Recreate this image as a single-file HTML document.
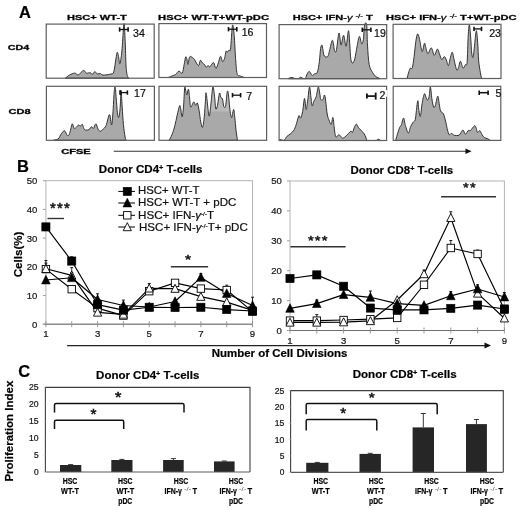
<!DOCTYPE html>
<html><head><meta charset="utf-8"><title>Figure</title>
<style>
html,body{margin:0;padding:0;background:#fff;}
body{width:520px;height:508px;overflow:hidden;}
svg{display:block;font-family:"Liberation Sans", sans-serif;will-change:transform;}
text{stroke:#111;stroke-width:0.22px;}
</style></head>
<body>
<svg width="520" height="508" viewBox="0 0 520 508" font-family='"Liberation Sans", sans-serif'>
<rect x="0" y="0" width="520" height="508" fill="#fff"/>
<text x="19.00" y="17.60" font-size="16.5" font-weight="bold" text-anchor="start" fill="#000" >A</text>
<text x="7.80" y="50.40" font-size="8" font-weight="bold" text-anchor="start" fill="#000" textLength="21.40" lengthAdjust="spacingAndGlyphs" style="stroke-width:0.32px">CD4</text>
<text x="8.60" y="114.20" font-size="8" font-weight="bold" text-anchor="start" fill="#000" textLength="22.00" lengthAdjust="spacingAndGlyphs" style="stroke-width:0.32px">CD8</text>
<text x="66.90" y="19.70" font-size="7.6" font-weight="bold" text-anchor="start" fill="#000" textLength="60.00" lengthAdjust="spacingAndGlyphs" style="stroke-width:0.28px">HSC+ WT-T</text>
<text x="158.10" y="19.70" font-size="7.6" font-weight="bold" text-anchor="start" fill="#000" textLength="110.90" lengthAdjust="spacingAndGlyphs" style="stroke-width:0.28px">HSC+ WT-T+WT-pDC</text>
<text x="292.8" y="19.7" font-size="7.6" font-weight="bold" style="stroke-width:0.28px" textLength="80" lengthAdjust="spacingAndGlyphs">HSC+ IFN-<tspan font-weight="normal" font-style="italic">γ</tspan> <tspan baseline-shift="35%" font-size="5.5" font-weight="normal">-/-</tspan> T</text>
<text x="386.1" y="19.7" font-size="7.6" font-weight="bold" style="stroke-width:0.28px" textLength="130.5" lengthAdjust="spacingAndGlyphs">HSC+ IFN-<tspan font-weight="normal" font-style="italic">γ</tspan> <tspan baseline-shift="35%" font-size="5.5" font-weight="normal">-/-</tspan> T+WT-pDC</text>
<path d="M65.40,78.20 C65.40,78.20 64.73,78.20 65.40,78.20 C66.07,77.68 67.83,75.95 69.40,75.10 C70.97,74.25 73.33,73.13 74.80,73.10 C76.27,73.07 76.73,75.35 78.20,74.90 C79.67,74.45 82.27,70.70 83.60,70.40 C84.93,70.10 85.08,72.72 86.20,73.10 C87.32,73.48 89.28,72.47 90.30,72.70 C91.32,72.93 91.57,74.65 92.30,74.50 C93.03,74.35 93.80,71.88 94.70,71.80 C95.60,71.72 96.75,73.72 97.70,74.00 C98.65,74.28 99.52,73.32 100.40,73.50 C101.28,73.68 101.22,75.02 103.00,75.10 C104.78,75.18 109.30,74.55 111.10,74.00 C112.90,73.45 113.00,74.30 113.80,71.80 C114.60,69.30 115.33,62.25 115.90,59.00 C116.47,55.75 116.77,52.75 117.20,52.30 C117.63,51.85 118.05,54.40 118.50,56.30 C118.95,58.20 119.33,64.60 119.90,63.70 C120.47,62.80 121.30,56.85 121.90,50.90 C122.50,44.95 123.10,32.32 123.50,28.00 C123.90,23.68 124.00,22.30 124.30,25.00 C124.60,27.70 124.98,36.97 125.30,44.20 C125.62,51.43 125.75,62.80 126.20,68.40 C126.65,74.00 127.53,76.17 128.00,77.80 C128.47,78.20 128.83,78.13 129.00,78.20 C129.17,78.20 129.00,78.20 129.00,78.20 Z" fill="#a9a9a9" stroke="#333" stroke-width="1.0" stroke-linejoin="round"/>
<path d="M168.10,77.50 C168.10,77.50 167.53,77.50 168.10,77.50 C168.67,77.28 170.27,76.70 171.50,76.20 C172.73,75.70 174.27,75.35 175.50,74.50 C176.73,73.65 177.78,71.33 178.90,71.10 C180.02,70.87 181.32,74.22 182.20,73.10 C183.08,71.98 183.63,67.08 184.20,64.40 C184.77,61.72 185.15,57.90 185.60,57.00 C186.05,56.10 186.52,57.77 186.90,59.00 C187.28,60.23 187.45,64.73 187.90,64.40 C188.35,64.07 188.98,58.23 189.60,57.00 C190.22,55.77 190.82,56.62 191.60,57.00 C192.38,57.38 193.17,57.85 194.30,59.30 C195.43,60.75 197.38,65.53 198.40,65.70 C199.42,65.87 199.73,60.75 200.40,60.30 C201.07,59.85 201.73,62.32 202.40,63.00 C203.07,63.68 203.77,63.68 204.40,64.40 C205.03,65.12 205.58,67.12 206.20,67.30 C206.82,67.48 207.50,65.58 208.10,65.50 C208.70,65.42 208.90,67.28 209.80,66.80 C210.70,66.32 212.48,62.33 213.50,62.60 C214.52,62.87 215.10,68.33 215.90,68.40 C216.70,68.47 217.52,65.02 218.30,63.00 C219.08,60.98 219.88,56.52 220.60,56.30 C221.32,56.08 221.93,61.37 222.60,61.70 C223.27,62.03 224.02,60.07 224.60,58.30 C225.18,56.53 225.65,52.10 226.10,51.10 C226.55,50.10 226.82,52.48 227.30,52.30 C227.78,52.12 228.47,50.48 229.00,50.00 C229.53,49.52 230.02,52.58 230.50,49.40 C230.98,46.22 231.52,34.97 231.90,30.90 C232.28,26.83 232.42,24.23 232.80,25.00 C233.18,25.77 233.73,29.90 234.20,35.50 C234.67,41.10 235.12,52.25 235.60,58.60 C236.08,64.95 236.37,70.72 237.10,73.60 C237.83,76.48 238.75,75.25 240.00,75.90 C241.25,76.55 243.83,77.23 244.60,77.50 C245.37,77.50 244.60,77.50 244.60,77.50 Z" fill="#a9a9a9" stroke="#333" stroke-width="1.0" stroke-linejoin="round"/>
<path d="M288.50,78.70 C288.50,78.65 287.92,78.62 288.50,78.40 C289.08,78.18 291.03,77.40 292.00,77.40 C292.97,77.40 293.15,78.23 294.30,78.40 C295.45,78.57 297.85,78.62 298.90,78.40 C299.95,78.18 299.92,77.10 300.60,77.10 C301.28,77.10 302.22,78.18 303.00,78.40 C303.78,78.62 304.60,78.70 305.30,78.40 C306.00,77.65 306.57,75.07 307.20,73.90 C307.83,72.73 308.52,71.50 309.10,71.40 C309.68,71.30 310.18,72.63 310.70,73.30 C311.22,73.97 311.57,75.30 312.20,75.40 C312.83,75.50 313.63,74.43 314.50,73.90 C315.37,73.37 316.58,74.32 317.40,72.20 C318.22,70.08 318.87,65.15 319.40,61.20 C319.93,57.25 320.17,51.18 320.60,48.50 C321.03,45.82 321.62,44.90 322.00,45.10 C322.38,45.30 322.52,47.88 322.90,49.70 C323.28,51.52 323.50,54.85 324.30,56.00 C325.10,57.15 326.83,57.47 327.70,56.60 C328.57,55.73 328.77,53.48 329.50,50.80 C330.23,48.12 331.43,41.65 332.10,40.50 C332.77,39.35 333.12,42.27 333.50,43.90 C333.88,45.53 333.93,49.15 334.40,50.30 C334.87,51.45 335.53,53.68 336.30,50.80 C337.07,47.92 338.22,33.95 339.00,33.00 C339.78,32.05 340.23,44.72 341.00,45.10 C341.77,45.48 342.75,35.12 343.60,35.30 C344.45,35.48 345.28,46.97 346.10,46.20 C346.92,45.43 347.88,30.88 348.50,30.70 C349.12,30.52 349.42,40.40 349.80,45.10 C350.18,49.80 350.35,55.92 350.80,58.90 C351.25,61.88 351.83,63.00 352.50,63.00 C353.17,63.00 354.03,61.70 354.80,58.90 C355.57,56.10 356.33,49.95 357.10,46.20 C357.87,42.45 358.63,36.78 359.40,36.40 C360.17,36.02 361.03,43.42 361.70,43.90 C362.37,44.38 362.92,42.45 363.40,39.30 C363.88,36.15 364.05,27.38 364.60,25.00 C365.15,22.62 366.22,21.65 366.70,25.00 C367.18,28.35 367.08,38.48 367.50,45.10 C367.92,51.72 368.33,60.10 369.20,64.70 C370.07,69.30 371.55,70.68 372.70,72.70 C373.85,74.72 374.95,75.85 376.10,76.80 C377.25,77.75 379.02,78.08 379.60,78.40 C380.18,78.70 379.60,78.65 379.60,78.70 Z" fill="#a9a9a9" stroke="#333" stroke-width="1.0" stroke-linejoin="round"/>
<path d="M407.10,78.50 C407.10,78.48 406.80,78.50 407.10,78.40 C407.40,77.25 408.35,73.32 408.90,71.60 C409.45,69.88 409.83,68.72 410.40,68.10 C410.97,67.48 411.68,69.82 412.30,67.90 C412.92,65.98 413.52,60.98 414.10,56.60 C414.68,52.22 415.23,45.35 415.80,41.60 C416.37,37.85 416.92,34.68 417.50,34.10 C418.08,33.52 418.53,35.22 419.30,38.10 C420.07,40.98 421.25,50.53 422.10,51.40 C422.95,52.27 423.82,44.07 424.40,43.30 C424.98,42.53 425.02,45.07 425.60,46.80 C426.18,48.53 427.03,53.50 427.90,53.70 C428.77,53.90 430.07,48.67 430.80,48.00 C431.53,47.33 431.72,48.47 432.30,49.70 C432.88,50.93 433.45,55.50 434.30,55.40 C435.15,55.30 436.55,49.38 437.40,49.10 C438.25,48.82 438.68,51.97 439.40,53.70 C440.12,55.43 440.88,59.02 441.70,59.50 C442.52,59.98 443.52,56.50 444.30,56.60 C445.08,56.70 445.72,58.60 446.40,60.10 C447.08,61.60 447.73,65.98 448.40,65.60 C449.07,65.22 449.75,60.03 450.40,57.80 C451.05,55.57 451.63,51.63 452.30,52.20 C452.97,52.77 453.67,58.25 454.40,61.20 C455.13,64.15 456.03,68.75 456.70,69.90 C457.37,71.05 457.78,69.55 458.40,68.10 C459.02,66.65 459.63,61.20 460.40,61.20 C461.17,61.20 462.18,67.52 463.00,68.10 C463.82,68.68 464.62,65.65 465.30,64.70 C465.98,63.75 466.62,67.22 467.10,62.40 C467.58,57.58 467.82,42.03 468.20,35.80 C468.58,29.57 468.97,24.42 469.40,25.00 C469.83,25.58 470.42,34.62 470.80,39.30 C471.18,43.98 471.32,50.12 471.70,53.10 C472.08,56.08 472.62,58.53 473.10,57.20 C473.58,55.87 474.07,49.52 474.60,45.10 C475.13,40.68 475.78,31.08 476.30,30.70 C476.82,30.32 477.32,37.90 477.70,42.80 C478.08,47.70 478.22,55.50 478.60,60.10 C478.98,64.70 479.52,67.35 480.00,70.40 C480.48,73.45 481.25,77.05 481.50,78.40 C481.75,78.50 481.50,78.48 481.50,78.50 Z" fill="#a9a9a9" stroke="#333" stroke-width="1.0" stroke-linejoin="round"/>
<path d="M53.80,140.30 C53.80,140.30 53.32,140.30 53.80,140.30 C54.28,140.18 55.83,139.95 56.70,139.60 C57.57,139.25 58.33,139.02 59.00,138.20 C59.67,137.38 59.78,135.95 60.70,134.70 C61.62,133.45 63.43,130.60 64.50,130.70 C65.57,130.80 66.33,134.63 67.10,135.30 C67.87,135.97 68.48,135.75 69.10,134.70 C69.72,133.65 70.27,130.82 70.80,129.00 C71.33,127.18 71.73,123.90 72.30,123.80 C72.87,123.70 73.53,127.82 74.20,128.40 C74.87,128.98 75.57,127.88 76.30,127.30 C77.03,126.72 77.93,125.10 78.60,124.90 C79.27,124.70 79.68,126.18 80.30,126.10 C80.92,126.02 81.72,124.02 82.30,124.40 C82.88,124.78 83.27,127.45 83.80,128.40 C84.33,129.35 84.63,129.90 85.50,130.10 C86.37,130.30 88.00,130.17 89.00,129.60 C90.00,129.03 90.77,126.90 91.50,126.70 C92.23,126.50 92.67,128.88 93.40,128.40 C94.13,127.92 95.13,123.70 95.90,123.80 C96.67,123.90 97.27,127.75 98.00,129.00 C98.73,130.25 99.43,131.30 100.30,131.30 C101.17,131.30 102.23,129.97 103.20,129.00 C104.17,128.03 105.05,127.90 106.10,125.50 C107.15,123.10 108.58,114.68 109.50,114.60 C110.42,114.52 111.02,125.48 111.60,125.00 C112.18,124.52 112.58,117.00 113.00,111.70 C113.42,106.40 113.75,97.32 114.10,93.20 C114.45,89.08 114.75,86.23 115.10,87.00 C115.45,87.77 115.82,93.50 116.20,97.80 C116.58,102.10 116.97,109.53 117.40,112.80 C117.83,116.07 118.35,118.17 118.80,117.40 C119.25,116.63 119.72,112.42 120.10,108.20 C120.48,103.98 120.75,92.28 121.10,92.10 C121.45,91.92 121.82,101.72 122.20,107.10 C122.58,112.48 122.92,119.40 123.40,124.40 C123.88,129.40 124.62,134.45 125.10,137.10 C125.58,139.75 126.10,139.77 126.30,140.30 C126.50,140.30 126.30,140.30 126.30,140.30 Z" fill="#a9a9a9" stroke="#333" stroke-width="1.0" stroke-linejoin="round"/>
<clipPath id="hc11"><path d="M169.10,140.30 C169.10,140.30 168.62,140.30 169.10,140.30 C169.58,139.37 171.03,137.17 172.00,134.70 C172.97,132.23 174.03,128.77 174.90,125.50 C175.77,122.23 176.43,118.37 177.20,115.10 C177.97,111.83 178.93,107.05 179.50,105.90 C180.07,104.75 180.17,106.37 180.60,108.20 C181.03,110.03 181.62,117.08 182.10,116.90 C182.58,116.72 183.07,112.00 183.50,107.10 C183.93,102.20 184.32,90.20 184.70,87.50 C185.08,84.80 185.45,89.65 185.80,90.90 C186.15,92.15 186.37,95.28 186.80,95.00 C187.23,94.72 187.95,88.92 188.40,89.20 C188.85,89.48 189.12,93.72 189.50,96.70 C189.88,99.68 190.00,106.23 190.70,107.10 C191.40,107.97 192.88,102.20 193.70,101.90 C194.52,101.60 194.98,105.12 195.60,105.30 C196.22,105.48 196.82,102.13 197.40,103.00 C197.98,103.87 198.53,107.32 199.10,110.50 C199.67,113.68 200.22,119.30 200.80,122.10 C201.38,124.90 202.02,128.27 202.60,127.30 C203.18,126.33 203.83,120.63 204.30,116.30 C204.77,111.97 205.12,105.23 205.40,101.30 C205.68,97.37 205.70,92.70 206.00,92.70 C206.30,92.70 206.82,98.13 207.20,101.30 C207.58,104.47 207.92,109.30 208.30,111.70 C208.68,114.10 209.02,117.43 209.50,115.70 C209.98,113.97 210.63,106.08 211.20,101.30 C211.77,96.52 212.33,87.77 212.90,87.00 C213.47,86.23 214.12,93.07 214.60,96.70 C215.08,100.33 215.32,107.37 215.80,108.80 C216.28,110.23 216.88,107.90 217.50,105.30 C218.12,102.70 218.92,94.45 219.50,93.20 C220.08,91.95 220.50,96.83 221.00,97.80 C221.50,98.77 222.03,97.55 222.50,99.00 C222.97,100.45 223.28,105.35 223.80,106.50 C224.32,107.65 225.02,108.40 225.60,105.90 C226.18,103.40 226.82,93.32 227.30,91.50 C227.78,89.68 228.12,92.40 228.50,95.00 C228.88,97.60 229.22,103.75 229.60,107.10 C229.98,110.45 230.42,113.38 230.80,115.10 C231.18,116.82 231.43,118.35 231.90,117.40 C232.37,116.45 233.12,109.40 233.60,109.40 C234.08,109.40 234.40,113.95 234.80,117.40 C235.20,120.85 235.55,126.28 236.00,130.10 C236.45,133.92 237.25,138.60 237.50,140.30 C237.75,140.30 237.50,140.30 237.50,140.30 Z"/></clipPath>
<path d="M169.10,140.30 C169.10,140.30 168.62,140.30 169.10,140.30 C169.58,139.37 171.03,137.17 172.00,134.70 C172.97,132.23 174.03,128.77 174.90,125.50 C175.77,122.23 176.43,118.37 177.20,115.10 C177.97,111.83 178.93,107.05 179.50,105.90 C180.07,104.75 180.17,106.37 180.60,108.20 C181.03,110.03 181.62,117.08 182.10,116.90 C182.58,116.72 183.07,112.00 183.50,107.10 C183.93,102.20 184.32,90.20 184.70,87.50 C185.08,84.80 185.45,89.65 185.80,90.90 C186.15,92.15 186.37,95.28 186.80,95.00 C187.23,94.72 187.95,88.92 188.40,89.20 C188.85,89.48 189.12,93.72 189.50,96.70 C189.88,99.68 190.00,106.23 190.70,107.10 C191.40,107.97 192.88,102.20 193.70,101.90 C194.52,101.60 194.98,105.12 195.60,105.30 C196.22,105.48 196.82,102.13 197.40,103.00 C197.98,103.87 198.53,107.32 199.10,110.50 C199.67,113.68 200.22,119.30 200.80,122.10 C201.38,124.90 202.02,128.27 202.60,127.30 C203.18,126.33 203.83,120.63 204.30,116.30 C204.77,111.97 205.12,105.23 205.40,101.30 C205.68,97.37 205.70,92.70 206.00,92.70 C206.30,92.70 206.82,98.13 207.20,101.30 C207.58,104.47 207.92,109.30 208.30,111.70 C208.68,114.10 209.02,117.43 209.50,115.70 C209.98,113.97 210.63,106.08 211.20,101.30 C211.77,96.52 212.33,87.77 212.90,87.00 C213.47,86.23 214.12,93.07 214.60,96.70 C215.08,100.33 215.32,107.37 215.80,108.80 C216.28,110.23 216.88,107.90 217.50,105.30 C218.12,102.70 218.92,94.45 219.50,93.20 C220.08,91.95 220.50,96.83 221.00,97.80 C221.50,98.77 222.03,97.55 222.50,99.00 C222.97,100.45 223.28,105.35 223.80,106.50 C224.32,107.65 225.02,108.40 225.60,105.90 C226.18,103.40 226.82,93.32 227.30,91.50 C227.78,89.68 228.12,92.40 228.50,95.00 C228.88,97.60 229.22,103.75 229.60,107.10 C229.98,110.45 230.42,113.38 230.80,115.10 C231.18,116.82 231.43,118.35 231.90,117.40 C232.37,116.45 233.12,109.40 233.60,109.40 C234.08,109.40 234.40,113.95 234.80,117.40 C235.20,120.85 235.55,126.28 236.00,130.10 C236.45,133.92 237.25,138.60 237.50,140.30 C237.75,140.30 237.50,140.30 237.50,140.30 Z" fill="#a9a9a9"/>
<rect x="204" y="85" width="33" height="26.5" fill="#bababa" clip-path="url(#hc11)"/>
<path d="M169.10,140.30 C169.10,140.30 168.62,140.30 169.10,140.30 C169.58,139.37 171.03,137.17 172.00,134.70 C172.97,132.23 174.03,128.77 174.90,125.50 C175.77,122.23 176.43,118.37 177.20,115.10 C177.97,111.83 178.93,107.05 179.50,105.90 C180.07,104.75 180.17,106.37 180.60,108.20 C181.03,110.03 181.62,117.08 182.10,116.90 C182.58,116.72 183.07,112.00 183.50,107.10 C183.93,102.20 184.32,90.20 184.70,87.50 C185.08,84.80 185.45,89.65 185.80,90.90 C186.15,92.15 186.37,95.28 186.80,95.00 C187.23,94.72 187.95,88.92 188.40,89.20 C188.85,89.48 189.12,93.72 189.50,96.70 C189.88,99.68 190.00,106.23 190.70,107.10 C191.40,107.97 192.88,102.20 193.70,101.90 C194.52,101.60 194.98,105.12 195.60,105.30 C196.22,105.48 196.82,102.13 197.40,103.00 C197.98,103.87 198.53,107.32 199.10,110.50 C199.67,113.68 200.22,119.30 200.80,122.10 C201.38,124.90 202.02,128.27 202.60,127.30 C203.18,126.33 203.83,120.63 204.30,116.30 C204.77,111.97 205.12,105.23 205.40,101.30 C205.68,97.37 205.70,92.70 206.00,92.70 C206.30,92.70 206.82,98.13 207.20,101.30 C207.58,104.47 207.92,109.30 208.30,111.70 C208.68,114.10 209.02,117.43 209.50,115.70 C209.98,113.97 210.63,106.08 211.20,101.30 C211.77,96.52 212.33,87.77 212.90,87.00 C213.47,86.23 214.12,93.07 214.60,96.70 C215.08,100.33 215.32,107.37 215.80,108.80 C216.28,110.23 216.88,107.90 217.50,105.30 C218.12,102.70 218.92,94.45 219.50,93.20 C220.08,91.95 220.50,96.83 221.00,97.80 C221.50,98.77 222.03,97.55 222.50,99.00 C222.97,100.45 223.28,105.35 223.80,106.50 C224.32,107.65 225.02,108.40 225.60,105.90 C226.18,103.40 226.82,93.32 227.30,91.50 C227.78,89.68 228.12,92.40 228.50,95.00 C228.88,97.60 229.22,103.75 229.60,107.10 C229.98,110.45 230.42,113.38 230.80,115.10 C231.18,116.82 231.43,118.35 231.90,117.40 C232.37,116.45 233.12,109.40 233.60,109.40 C234.08,109.40 234.40,113.95 234.80,117.40 C235.20,120.85 235.55,126.28 236.00,130.10 C236.45,133.92 237.25,138.60 237.50,140.30 C237.75,140.30 237.50,140.30 237.50,140.30 Z" fill="none" stroke="#333" stroke-width="1.0" stroke-linejoin="round"/>
<path d="M279.90,140.50 C279.90,140.32 279.23,139.42 279.90,139.40 C280.57,139.38 282.75,140.50 283.90,140.40 C285.05,139.92 285.65,137.63 286.80,136.50 C287.95,135.37 289.55,134.75 290.80,133.60 C292.05,132.45 293.33,131.33 294.30,129.60 C295.27,127.87 295.83,125.52 296.60,123.20 C297.37,120.88 298.23,116.57 298.90,115.70 C299.57,114.83 299.98,118.67 300.60,118.00 C301.22,117.33 301.95,114.97 302.60,111.70 C303.25,108.43 303.92,98.78 304.50,98.40 C305.08,98.02 305.58,108.92 306.10,109.40 C306.62,109.88 307.03,105.03 307.60,101.30 C308.17,97.57 308.93,87.58 309.50,87.00 C310.07,86.42 310.55,94.65 311.00,97.80 C311.45,100.95 311.72,105.32 312.20,105.90 C312.68,106.48 313.23,102.83 313.90,101.30 C314.57,99.77 315.47,99.08 316.20,96.70 C316.93,94.32 317.68,87.38 318.30,87.00 C318.92,86.62 319.48,92.30 319.90,94.40 C320.32,96.50 320.30,98.73 320.80,99.60 C321.30,100.47 322.28,100.37 322.90,99.60 C323.52,98.83 324.03,94.72 324.50,95.00 C324.97,95.28 325.25,98.13 325.70,101.30 C326.15,104.47 326.67,110.92 327.20,114.00 C327.73,117.08 328.23,118.07 328.90,119.80 C329.57,121.53 330.53,124.80 331.20,124.40 C331.87,124.00 332.42,117.02 332.90,117.40 C333.38,117.78 333.72,123.82 334.10,126.70 C334.48,129.58 334.83,132.97 335.20,134.70 C335.57,136.43 335.72,137.10 336.30,137.10 C336.88,137.10 338.02,134.90 338.70,134.70 C339.38,134.50 339.73,135.32 340.40,135.90 C341.07,136.48 341.75,138.20 342.70,138.20 C343.65,138.20 344.75,137.05 346.10,135.90 C347.45,134.75 349.73,131.88 350.80,131.30 C351.87,130.72 351.93,132.98 352.50,132.40 C353.07,131.82 353.57,129.18 354.20,127.80 C354.83,126.42 355.62,124.18 356.30,124.10 C356.98,124.02 357.58,126.33 358.30,127.30 C359.02,128.27 359.65,128.85 360.60,129.90 C361.55,130.95 363.13,132.40 364.00,133.60 C364.87,134.80 365.22,135.97 365.80,137.10 C366.38,138.23 365.78,139.85 367.50,140.40 C369.22,140.50 374.32,140.50 376.10,140.40 C377.88,140.18 377.43,139.10 378.20,139.10 C378.97,139.10 380.28,140.17 380.70,140.40 C381.12,140.50 380.70,140.48 380.70,140.50 Z" fill="#a9a9a9" stroke="#333" stroke-width="1.0" stroke-linejoin="round"/>
<path d="M395.60,140.40 C395.60,140.40 395.32,140.40 395.60,140.40 C395.88,139.45 396.62,136.88 397.30,134.70 C397.98,132.52 399.02,128.92 399.70,127.30 C400.38,125.68 400.77,126.55 401.40,125.00 C402.03,123.45 402.83,117.92 403.50,118.00 C404.17,118.08 404.60,123.00 405.40,125.50 C406.20,128.00 407.43,132.80 408.30,133.00 C409.17,133.20 409.83,128.43 410.60,126.70 C411.37,124.97 412.13,123.75 412.90,122.60 C413.67,121.45 414.62,121.82 415.20,119.80 C415.78,117.78 415.97,113.68 416.40,110.50 C416.83,107.32 417.38,100.70 417.80,100.70 C418.22,100.70 418.47,107.90 418.90,110.50 C419.33,113.10 419.87,117.45 420.40,116.30 C420.93,115.15 421.43,107.35 422.10,103.60 C422.77,99.85 423.72,94.77 424.40,93.80 C425.08,92.83 425.65,96.75 426.20,97.80 C426.75,98.85 427.22,100.28 427.70,100.10 C428.18,99.92 428.65,98.88 429.10,96.70 C429.55,94.52 429.93,86.62 430.40,87.00 C430.87,87.38 431.35,95.65 431.90,99.00 C432.45,102.35 433.12,106.05 433.70,107.10 C434.28,108.15 434.73,107.13 435.40,105.30 C436.07,103.47 437.07,96.38 437.70,96.10 C438.33,95.82 438.72,101.10 439.20,103.60 C439.68,106.10 439.88,109.37 440.60,111.10 C441.32,112.83 442.63,112.17 443.50,114.00 C444.37,115.83 445.13,119.42 445.80,122.10 C446.47,124.78 446.93,128.00 447.50,130.10 C448.07,132.20 448.53,134.15 449.20,134.70 C449.87,135.25 450.63,133.30 451.50,133.40 C452.37,133.50 453.15,134.98 454.40,135.30 C455.65,135.62 457.88,135.78 459.00,135.30 C460.12,134.82 460.43,133.27 461.10,132.40 C461.77,131.53 462.30,129.80 463.00,130.10 C463.70,130.40 464.62,133.85 465.30,134.20 C465.98,134.55 466.52,132.88 467.10,132.20 C467.68,131.52 468.27,130.35 468.80,130.10 C469.33,129.85 469.33,131.42 470.30,130.70 C471.27,129.98 473.60,126.18 474.60,125.80 C475.60,125.42 475.83,127.30 476.30,128.40 C476.77,129.50 476.82,132.02 477.40,132.40 C477.98,132.78 479.02,130.32 479.80,130.70 C480.58,131.08 481.33,133.55 482.10,134.70 C482.87,135.85 483.45,136.92 484.40,137.60 C485.35,138.28 486.85,138.33 487.80,138.80 C488.75,139.27 489.72,140.13 490.10,140.40 C490.48,140.40 490.10,140.40 490.10,140.40 Z" fill="#a9a9a9" stroke="#333" stroke-width="1.0" stroke-linejoin="round"/>
<rect x="46.20" y="24.10" width="108.00" height="54.10" fill="none" stroke="#5e5e5e" stroke-width="1.2" />
<rect x="158.90" y="23.60" width="107.60" height="53.90" fill="none" stroke="#5e5e5e" stroke-width="1.2" />
<rect x="279.10" y="24.60" width="107.60" height="54.10" fill="none" stroke="#5e5e5e" stroke-width="1.2" />
<rect x="393.10" y="24.30" width="107.90" height="54.20" fill="none" stroke="#5e5e5e" stroke-width="1.2" />
<rect x="46.40" y="86.30" width="108.00" height="54.00" fill="none" stroke="#5e5e5e" stroke-width="1.2" />
<rect x="159.00" y="86.30" width="107.60" height="54.00" fill="none" stroke="#5e5e5e" stroke-width="1.2" />
<rect x="279.10" y="86.30" width="107.50" height="54.20" fill="none" stroke="#5e5e5e" stroke-width="1.2" />
<rect x="393.20" y="86.30" width="107.60" height="54.10" fill="none" stroke="#5e5e5e" stroke-width="1.2" />
<line x1="119.60" y1="29.50" x2="128.10" y2="29.50" stroke="#111" stroke-width="1.3" />
<line x1="119.60" y1="27.30" x2="119.60" y2="31.70" stroke="#111" stroke-width="1.6" />
<line x1="128.10" y1="27.30" x2="128.10" y2="31.70" stroke="#111" stroke-width="1.6" />
<line x1="228.50" y1="29.20" x2="236.80" y2="29.20" stroke="#111" stroke-width="1.3" />
<line x1="228.50" y1="27.00" x2="228.50" y2="31.40" stroke="#111" stroke-width="1.6" />
<line x1="236.80" y1="27.00" x2="236.80" y2="31.40" stroke="#111" stroke-width="1.6" />
<line x1="362.30" y1="29.80" x2="370.90" y2="29.80" stroke="#111" stroke-width="1.3" />
<line x1="362.30" y1="27.60" x2="362.30" y2="32.00" stroke="#111" stroke-width="1.6" />
<line x1="370.90" y1="27.60" x2="370.90" y2="32.00" stroke="#111" stroke-width="1.6" />
<line x1="474.00" y1="28.90" x2="481.50" y2="28.90" stroke="#111" stroke-width="1.3" />
<line x1="474.00" y1="26.70" x2="474.00" y2="31.10" stroke="#111" stroke-width="1.6" />
<line x1="481.50" y1="26.70" x2="481.50" y2="31.10" stroke="#111" stroke-width="1.6" />
<line x1="120.50" y1="92.60" x2="127.40" y2="92.60" stroke="#111" stroke-width="1.3" />
<line x1="120.50" y1="90.40" x2="120.50" y2="94.80" stroke="#111" stroke-width="1.6" />
<line x1="127.40" y1="90.40" x2="127.40" y2="94.80" stroke="#111" stroke-width="1.6" />
<rect x="119.30" y="90.30" width="2.30" height="4.40" fill="#111" stroke="none" stroke-width="1" />
<line x1="232.50" y1="95.20" x2="240.60" y2="95.20" stroke="#111" stroke-width="1.3" />
<line x1="232.50" y1="93.00" x2="232.50" y2="97.40" stroke="#111" stroke-width="1.6" />
<line x1="240.60" y1="93.00" x2="240.60" y2="97.40" stroke="#111" stroke-width="1.6" />
<rect x="378.30" y="90.00" width="9.00" height="6.60" fill="#fff" stroke="none" stroke-width="1" />
<line x1="366.90" y1="96.10" x2="375.70" y2="96.10" stroke="#111" stroke-width="1.7" />
<line x1="366.90" y1="93.60" x2="366.90" y2="98.60" stroke="#111" stroke-width="1.8" />
<line x1="375.70" y1="92.60" x2="375.70" y2="99.60" stroke="#111" stroke-width="1.8" />
<line x1="479.20" y1="92.70" x2="488.10" y2="92.70" stroke="#111" stroke-width="1.5" />
<line x1="479.20" y1="90.50" x2="479.20" y2="94.90" stroke="#111" stroke-width="1.6" />
<line x1="488.10" y1="90.50" x2="488.10" y2="94.90" stroke="#111" stroke-width="1.6" />
<text x="133.10" y="36.60" font-size="10.6" font-weight="normal" text-anchor="start" fill="#111" >34</text>
<text x="241.70" y="35.50" font-size="10.6" font-weight="normal" text-anchor="start" fill="#111" >16</text>
<text x="374.00" y="36.60" font-size="10.6" font-weight="normal" text-anchor="start" fill="#111" >19</text>
<text x="489.20" y="36.60" font-size="10.6" font-weight="normal" text-anchor="start" fill="#111" >23</text>
<text x="134.00" y="96.70" font-size="10.6" font-weight="normal" text-anchor="start" fill="#111" >17</text>
<text x="246.30" y="100.10" font-size="10.6" font-weight="normal" text-anchor="start" fill="#111" >7</text>
<text x="379.60" y="99.20" font-size="10.6" font-weight="normal" text-anchor="start" fill="#111" >2</text>
<text x="495.50" y="96.70" font-size="10.6" font-weight="normal" text-anchor="start" fill="#111" >5</text>
<text x="61.25" y="154.40" font-size="7.0" font-weight="bold" text-anchor="start" fill="#000" textLength="29.40" lengthAdjust="spacingAndGlyphs" style="stroke-width:0.32px">CFSE</text>
<line x1="113.75" y1="151.30" x2="467.00" y2="151.30" stroke="#333" stroke-width="1.05" />
<polygon points="465.5,148.6 471.6,151.3 465.5,154.0" fill="#111"/>
<text x="17.00" y="171.60" font-size="16.5" font-weight="bold" text-anchor="start" fill="#000" >B</text>
<rect x="45.90" y="180.70" width="206.64" height="143.50" fill="none" stroke="#b4b4b4" stroke-width="1"/>
<line x1="42.90" y1="324.20" x2="252.54" y2="324.20" stroke="#707070" stroke-width="1" />
<line x1="42.90" y1="324.20" x2="45.90" y2="324.20" stroke="#a0a0a0" stroke-width="1" />
<text x="37.40" y="327.60" font-size="9.6" font-weight="normal" text-anchor="end" fill="#222" >0</text>
<line x1="42.90" y1="295.50" x2="45.90" y2="295.50" stroke="#a0a0a0" stroke-width="1" />
<text x="37.40" y="298.90" font-size="9.6" font-weight="normal" text-anchor="end" fill="#222" textLength="10.60" lengthAdjust="spacingAndGlyphs" >10</text>
<line x1="42.90" y1="266.80" x2="45.90" y2="266.80" stroke="#a0a0a0" stroke-width="1" />
<text x="37.40" y="270.20" font-size="9.6" font-weight="normal" text-anchor="end" fill="#222" textLength="10.60" lengthAdjust="spacingAndGlyphs" >20</text>
<line x1="42.90" y1="238.10" x2="45.90" y2="238.10" stroke="#a0a0a0" stroke-width="1" />
<text x="37.40" y="241.50" font-size="9.6" font-weight="normal" text-anchor="end" fill="#222" textLength="10.60" lengthAdjust="spacingAndGlyphs" >30</text>
<line x1="42.90" y1="209.40" x2="45.90" y2="209.40" stroke="#a0a0a0" stroke-width="1" />
<text x="37.40" y="212.80" font-size="9.6" font-weight="normal" text-anchor="end" fill="#222" textLength="10.60" lengthAdjust="spacingAndGlyphs" >40</text>
<line x1="42.90" y1="180.70" x2="45.90" y2="180.70" stroke="#a0a0a0" stroke-width="1" />
<text x="37.40" y="184.10" font-size="9.6" font-weight="normal" text-anchor="end" fill="#222" textLength="10.60" lengthAdjust="spacingAndGlyphs" >50</text>
<line x1="45.90" y1="321.20" x2="45.90" y2="327.20" stroke="#909090" stroke-width="0.9" />
<text x="45.90" y="337.40" font-size="9.6" font-weight="normal" text-anchor="middle" fill="#222" >1</text>
<line x1="71.73" y1="321.20" x2="71.73" y2="327.20" stroke="#909090" stroke-width="0.9" />
<line x1="97.56" y1="321.20" x2="97.56" y2="327.20" stroke="#909090" stroke-width="0.9" />
<text x="97.56" y="337.40" font-size="9.6" font-weight="normal" text-anchor="middle" fill="#222" >3</text>
<line x1="123.39" y1="321.20" x2="123.39" y2="327.20" stroke="#909090" stroke-width="0.9" />
<line x1="149.22" y1="321.20" x2="149.22" y2="327.20" stroke="#909090" stroke-width="0.9" />
<text x="149.22" y="337.40" font-size="9.6" font-weight="normal" text-anchor="middle" fill="#222" >5</text>
<line x1="175.05" y1="321.20" x2="175.05" y2="327.20" stroke="#909090" stroke-width="0.9" />
<line x1="200.88" y1="321.20" x2="200.88" y2="327.20" stroke="#909090" stroke-width="0.9" />
<text x="200.88" y="337.40" font-size="9.6" font-weight="normal" text-anchor="middle" fill="#222" >7</text>
<line x1="226.71" y1="321.20" x2="226.71" y2="327.20" stroke="#909090" stroke-width="0.9" />
<line x1="252.54" y1="321.20" x2="252.54" y2="327.20" stroke="#909090" stroke-width="0.9" />
<text x="252.54" y="337.40" font-size="9.6" font-weight="normal" text-anchor="middle" fill="#222" >9</text>
<polyline points="45.90,269.10 71.73,289.19 97.56,308.13 123.39,315.59 149.22,291.19 175.05,282.87 200.88,288.61 226.71,290.05 252.54,311.57" fill="none" stroke="#000" stroke-width="1.15" stroke-linejoin="round"/>
<polyline points="45.90,268.81 71.73,275.41 97.56,312.43 123.39,314.44 149.22,288.32 175.05,288.61 200.88,296.65 226.71,302.10 252.54,310.42" fill="none" stroke="#000" stroke-width="1.15" stroke-linejoin="round"/>
<polyline points="45.90,280.00 71.73,277.71 97.56,299.52 123.39,305.54 149.22,306.98 175.05,301.53 200.88,277.42 226.71,293.49 252.54,305.54" fill="none" stroke="#000" stroke-width="1.15" stroke-linejoin="round"/>
<polyline points="45.90,226.91 71.73,261.06 97.56,304.68 123.39,310.14 149.22,307.27 175.05,307.55 200.88,307.27 226.71,309.56 252.54,311.00" fill="none" stroke="#000" stroke-width="1.15" stroke-linejoin="round"/>
<line x1="45.90" y1="269.10" x2="45.90" y2="260.49" stroke="#000" stroke-width="0.8" />
<line x1="44.40" y1="260.49" x2="47.40" y2="260.49" stroke="#000" stroke-width="0.9" />
<line x1="226.71" y1="290.05" x2="226.71" y2="285.17" stroke="#000" stroke-width="0.8" />
<line x1="225.21" y1="285.17" x2="228.21" y2="285.17" stroke="#000" stroke-width="0.9" />
<line x1="45.90" y1="268.81" x2="45.90" y2="263.07" stroke="#000" stroke-width="0.8" />
<line x1="44.40" y1="263.07" x2="47.40" y2="263.07" stroke="#000" stroke-width="0.9" />
<line x1="71.73" y1="275.41" x2="71.73" y2="272.54" stroke="#000" stroke-width="0.8" />
<line x1="70.23" y1="272.54" x2="73.23" y2="272.54" stroke="#000" stroke-width="0.9" />
<line x1="149.22" y1="288.32" x2="149.22" y2="283.45" stroke="#000" stroke-width="0.8" />
<line x1="147.72" y1="283.45" x2="150.72" y2="283.45" stroke="#000" stroke-width="0.9" />
<line x1="71.73" y1="277.71" x2="71.73" y2="267.66" stroke="#000" stroke-width="0.8" />
<line x1="70.23" y1="267.66" x2="73.23" y2="267.66" stroke="#000" stroke-width="0.9" />
<line x1="97.56" y1="299.52" x2="97.56" y2="293.78" stroke="#000" stroke-width="0.8" />
<line x1="96.06" y1="293.78" x2="99.06" y2="293.78" stroke="#000" stroke-width="0.9" />
<line x1="123.39" y1="305.54" x2="123.39" y2="300.09" stroke="#000" stroke-width="0.8" />
<line x1="121.89" y1="300.09" x2="124.89" y2="300.09" stroke="#000" stroke-width="0.9" />
<line x1="200.88" y1="277.42" x2="200.88" y2="273.69" stroke="#000" stroke-width="0.8" />
<line x1="199.38" y1="273.69" x2="202.38" y2="273.69" stroke="#000" stroke-width="0.9" />
<line x1="252.54" y1="305.54" x2="252.54" y2="297.22" stroke="#000" stroke-width="0.8" />
<line x1="251.04" y1="297.22" x2="254.04" y2="297.22" stroke="#000" stroke-width="0.9" />
<line x1="71.73" y1="261.06" x2="71.73" y2="256.75" stroke="#000" stroke-width="0.8" />
<line x1="70.23" y1="256.75" x2="73.23" y2="256.75" stroke="#000" stroke-width="0.9" />
<rect x="42.20" y="265.40" width="7.40" height="7.40" fill="#fff" stroke="#000" stroke-width="0.9" />
<rect x="68.03" y="285.49" width="7.40" height="7.40" fill="#fff" stroke="#000" stroke-width="0.9" />
<rect x="93.86" y="304.43" width="7.40" height="7.40" fill="#fff" stroke="#000" stroke-width="0.9" />
<rect x="119.69" y="311.89" width="7.40" height="7.40" fill="#fff" stroke="#000" stroke-width="0.9" />
<rect x="145.52" y="287.49" width="7.40" height="7.40" fill="#fff" stroke="#000" stroke-width="0.9" />
<rect x="171.35" y="279.17" width="7.40" height="7.40" fill="#fff" stroke="#000" stroke-width="0.9" />
<rect x="197.18" y="284.91" width="7.40" height="7.40" fill="#fff" stroke="#000" stroke-width="0.9" />
<rect x="223.01" y="286.35" width="7.40" height="7.40" fill="#fff" stroke="#000" stroke-width="0.9" />
<rect x="248.84" y="307.87" width="7.40" height="7.40" fill="#fff" stroke="#000" stroke-width="0.9" />
<polygon points="45.90,264.51 50.00,272.51 41.80,272.51" fill="#fff" stroke="#000" stroke-width="0.9" stroke-linejoin="miter"/>
<polygon points="71.73,271.11 75.83,279.11 67.63,279.11" fill="#fff" stroke="#000" stroke-width="0.9" stroke-linejoin="miter"/>
<polygon points="97.56,308.13 101.66,316.13 93.46,316.13" fill="#fff" stroke="#000" stroke-width="0.9" stroke-linejoin="miter"/>
<polygon points="123.39,310.14 127.49,318.14 119.29,318.14" fill="#fff" stroke="#000" stroke-width="0.9" stroke-linejoin="miter"/>
<polygon points="149.22,284.02 153.32,292.03 145.12,292.03" fill="#fff" stroke="#000" stroke-width="0.9" stroke-linejoin="miter"/>
<polygon points="175.05,284.31 179.15,292.31 170.95,292.31" fill="#fff" stroke="#000" stroke-width="0.9" stroke-linejoin="miter"/>
<polygon points="200.88,292.35 204.98,300.35 196.78,300.35" fill="#fff" stroke="#000" stroke-width="0.9" stroke-linejoin="miter"/>
<polygon points="226.71,297.80 230.81,305.80 222.61,305.80" fill="#fff" stroke="#000" stroke-width="0.9" stroke-linejoin="miter"/>
<polygon points="252.54,306.12 256.64,314.12 248.44,314.12" fill="#fff" stroke="#000" stroke-width="0.9" stroke-linejoin="miter"/>
<polygon points="45.90,275.30 50.20,283.90 41.60,283.90" fill="#000" stroke="#000" stroke-width="0.6"/>
<polygon points="71.73,273.01 76.03,281.61 67.43,281.61" fill="#000" stroke="#000" stroke-width="0.6"/>
<polygon points="97.56,294.82 101.86,303.42 93.26,303.42" fill="#000" stroke="#000" stroke-width="0.6"/>
<polygon points="123.39,300.84 127.69,309.44 119.09,309.44" fill="#000" stroke="#000" stroke-width="0.6"/>
<polygon points="149.22,302.28 153.52,310.88 144.92,310.88" fill="#000" stroke="#000" stroke-width="0.6"/>
<polygon points="175.05,296.83 179.35,305.43 170.75,305.43" fill="#000" stroke="#000" stroke-width="0.6"/>
<polygon points="200.88,272.72 205.18,281.32 196.58,281.32" fill="#000" stroke="#000" stroke-width="0.6"/>
<polygon points="226.71,288.79 231.01,297.39 222.41,297.39" fill="#000" stroke="#000" stroke-width="0.6"/>
<polygon points="252.54,300.84 256.84,309.44 248.24,309.44" fill="#000" stroke="#000" stroke-width="0.6"/>
<rect x="41.80" y="222.81" width="8.20" height="8.20" fill="#000" stroke="#000" stroke-width="0.6" />
<rect x="67.63" y="256.96" width="8.20" height="8.20" fill="#000" stroke="#000" stroke-width="0.6" />
<rect x="93.46" y="300.58" width="8.20" height="8.20" fill="#000" stroke="#000" stroke-width="0.6" />
<rect x="119.29" y="306.04" width="8.20" height="8.20" fill="#000" stroke="#000" stroke-width="0.6" />
<rect x="145.12" y="303.17" width="8.20" height="8.20" fill="#000" stroke="#000" stroke-width="0.6" />
<rect x="170.95" y="303.45" width="8.20" height="8.20" fill="#000" stroke="#000" stroke-width="0.6" />
<rect x="196.78" y="303.17" width="8.20" height="8.20" fill="#000" stroke="#000" stroke-width="0.6" />
<rect x="222.61" y="305.46" width="8.20" height="8.20" fill="#000" stroke="#000" stroke-width="0.6" />
<rect x="248.44" y="306.90" width="8.20" height="8.20" fill="#000" stroke="#000" stroke-width="0.6" />
<text x="0" y="5.15" font-size="10" style="stroke-width:0.35px" text-anchor="middle" fill="#111" transform="translate(52.85,205.80) scale(1.472,1.486)">*</text>
<text x="0" y="5.15" font-size="10" style="stroke-width:0.35px" text-anchor="middle" fill="#111" transform="translate(59.80,205.80) scale(1.472,1.486)">*</text>
<text x="0" y="5.15" font-size="10" style="stroke-width:0.35px" text-anchor="middle" fill="#111" transform="translate(66.75,205.80) scale(1.472,1.486)">*</text>
<line x1="47.50" y1="218.50" x2="64.00" y2="218.50" stroke="#333" stroke-width="1.4" />
<text x="0" y="5.15" font-size="10" style="stroke-width:0.35px" text-anchor="middle" fill="#111" transform="translate(188.00,256.50) scale(1.556,1.371)">*</text>
<line x1="170.80" y1="266.80" x2="208.10" y2="266.80" stroke="#333" stroke-width="1.4" />
<text x="98.80" y="173.00" font-size="11" font-weight="bold" text-anchor="start" fill="#000" textLength="103.70" lengthAdjust="spacingAndGlyphs" >Donor CD4<tspan baseline-shift="super" font-size="7">+</tspan> T-cells</text>
<line x1="118.30" y1="191.40" x2="135.00" y2="191.40" stroke="#000" stroke-width="1" />
<rect x="123.20" y="187.30" width="8.20" height="8.20" fill="#000" stroke="#000" stroke-width="0.6" />
<text x="138.00" y="194.10" font-size="10.8" font-weight="normal" text-anchor="start" fill="#111" textLength="61.50" lengthAdjust="spacingAndGlyphs" >HSC+ WT-T</text>
<line x1="118.30" y1="203.00" x2="135.00" y2="203.00" stroke="#000" stroke-width="1" />
<polygon points="127.30,198.30 131.60,206.90 123.00,206.90" fill="#000" stroke="#000" stroke-width="0.6"/>
<text x="138.00" y="206.10" font-size="10.8" font-weight="normal" text-anchor="start" fill="#111" textLength="98.30" lengthAdjust="spacingAndGlyphs" >HSC+ WT-T + pDC</text>
<line x1="118.30" y1="215.30" x2="135.00" y2="215.30" stroke="#000" stroke-width="1" />
<rect x="123.60" y="211.60" width="7.40" height="7.40" fill="#fff" stroke="#000" stroke-width="0.9" />
<text x="138.00" y="218.70" font-size="10.8" font-weight="normal" text-anchor="start" fill="#111" textLength="76.20" lengthAdjust="spacingAndGlyphs" >HSC+ IFN-<tspan font-style="italic">γ</tspan><tspan baseline-shift="super" font-size="6">-/-</tspan>T</text>
<line x1="118.30" y1="227.00" x2="135.00" y2="227.00" stroke="#000" stroke-width="1" />
<polygon points="127.30,222.70 131.40,230.70 123.20,230.70" fill="#fff" stroke="#000" stroke-width="0.9" stroke-linejoin="miter"/>
<text x="139.00" y="231.00" font-size="10.8" font-weight="normal" text-anchor="start" fill="#111" textLength="108.80" lengthAdjust="spacingAndGlyphs" >HSC+ IFN-<tspan font-style="italic">γ</tspan><tspan baseline-shift="super" font-size="6">-/-</tspan>T+ pDC</text>
<rect x="290.00" y="181.00" width="214.40" height="149.50" fill="none" stroke="#b4b4b4" stroke-width="1"/>
<line x1="287.00" y1="330.50" x2="504.40" y2="330.50" stroke="#707070" stroke-width="1" />
<line x1="287.00" y1="330.50" x2="290.00" y2="330.50" stroke="#a0a0a0" stroke-width="1" />
<text x="281.80" y="333.90" font-size="9.6" font-weight="normal" text-anchor="end" fill="#222" >0</text>
<line x1="287.00" y1="300.60" x2="290.00" y2="300.60" stroke="#a0a0a0" stroke-width="1" />
<text x="281.80" y="304.00" font-size="9.6" font-weight="normal" text-anchor="end" fill="#222" textLength="10.60" lengthAdjust="spacingAndGlyphs" >10</text>
<line x1="287.00" y1="270.70" x2="290.00" y2="270.70" stroke="#a0a0a0" stroke-width="1" />
<text x="281.80" y="274.10" font-size="9.6" font-weight="normal" text-anchor="end" fill="#222" textLength="10.60" lengthAdjust="spacingAndGlyphs" >20</text>
<line x1="287.00" y1="240.80" x2="290.00" y2="240.80" stroke="#a0a0a0" stroke-width="1" />
<text x="281.80" y="244.20" font-size="9.6" font-weight="normal" text-anchor="end" fill="#222" textLength="10.60" lengthAdjust="spacingAndGlyphs" >30</text>
<line x1="287.00" y1="210.90" x2="290.00" y2="210.90" stroke="#a0a0a0" stroke-width="1" />
<text x="281.80" y="214.30" font-size="9.6" font-weight="normal" text-anchor="end" fill="#222" textLength="10.60" lengthAdjust="spacingAndGlyphs" >40</text>
<line x1="287.00" y1="181.00" x2="290.00" y2="181.00" stroke="#a0a0a0" stroke-width="1" />
<text x="281.80" y="184.40" font-size="9.6" font-weight="normal" text-anchor="end" fill="#222" textLength="10.60" lengthAdjust="spacingAndGlyphs" >50</text>
<line x1="290.00" y1="327.50" x2="290.00" y2="333.50" stroke="#909090" stroke-width="0.9" />
<text x="290.00" y="343.70" font-size="9.6" font-weight="normal" text-anchor="middle" fill="#222" >1</text>
<line x1="316.80" y1="327.50" x2="316.80" y2="333.50" stroke="#909090" stroke-width="0.9" />
<line x1="343.60" y1="327.50" x2="343.60" y2="333.50" stroke="#909090" stroke-width="0.9" />
<text x="343.60" y="343.70" font-size="9.6" font-weight="normal" text-anchor="middle" fill="#222" >3</text>
<line x1="370.40" y1="327.50" x2="370.40" y2="333.50" stroke="#909090" stroke-width="0.9" />
<line x1="397.20" y1="327.50" x2="397.20" y2="333.50" stroke="#909090" stroke-width="0.9" />
<text x="397.20" y="343.70" font-size="9.6" font-weight="normal" text-anchor="middle" fill="#222" >5</text>
<line x1="424.00" y1="327.50" x2="424.00" y2="333.50" stroke="#909090" stroke-width="0.9" />
<line x1="450.80" y1="327.50" x2="450.80" y2="333.50" stroke="#909090" stroke-width="0.9" />
<text x="450.80" y="343.70" font-size="9.6" font-weight="normal" text-anchor="middle" fill="#222" >7</text>
<line x1="477.60" y1="327.50" x2="477.60" y2="333.50" stroke="#909090" stroke-width="0.9" />
<line x1="504.40" y1="327.50" x2="504.40" y2="333.50" stroke="#909090" stroke-width="0.9" />
<text x="504.40" y="343.70" font-size="9.6" font-weight="normal" text-anchor="middle" fill="#222" >9</text>
<polyline points="290.00,320.63 316.80,320.63 343.60,320.04 370.40,319.14 397.20,317.94 424.00,284.75 450.80,247.98 477.60,253.96 504.40,309.57" fill="none" stroke="#000" stroke-width="1.15" stroke-linejoin="round"/>
<polyline points="290.00,322.43 316.80,322.43 343.60,322.13 370.40,320.93 397.20,300.00 424.00,273.99 450.80,217.78 477.60,293.42 504.40,318.24" fill="none" stroke="#000" stroke-width="1.15" stroke-linejoin="round"/>
<polyline points="290.00,308.37 316.80,303.59 343.60,294.62 370.40,297.31 397.20,303.59 424.00,305.38 450.80,295.82 477.60,288.94 504.40,297.01" fill="none" stroke="#000" stroke-width="1.15" stroke-linejoin="round"/>
<polyline points="290.00,278.47 316.80,274.89 343.60,286.25 370.40,308.07 397.20,309.87 424.00,309.87 450.80,308.37 477.60,305.08 504.40,308.97" fill="none" stroke="#000" stroke-width="1.15" stroke-linejoin="round"/>
<line x1="316.80" y1="320.63" x2="316.80" y2="314.65" stroke="#000" stroke-width="0.8" />
<line x1="315.30" y1="314.65" x2="318.30" y2="314.65" stroke="#000" stroke-width="0.9" />
<line x1="343.60" y1="320.04" x2="343.60" y2="318.24" stroke="#000" stroke-width="0.8" />
<line x1="342.10" y1="318.24" x2="345.10" y2="318.24" stroke="#000" stroke-width="0.9" />
<line x1="450.80" y1="247.98" x2="450.80" y2="240.50" stroke="#000" stroke-width="0.8" />
<line x1="449.30" y1="240.50" x2="452.30" y2="240.50" stroke="#000" stroke-width="0.9" />
<line x1="477.60" y1="253.96" x2="477.60" y2="250.07" stroke="#000" stroke-width="0.8" />
<line x1="476.10" y1="250.07" x2="479.10" y2="250.07" stroke="#000" stroke-width="0.9" />
<line x1="424.00" y1="273.99" x2="424.00" y2="270.10" stroke="#000" stroke-width="0.8" />
<line x1="422.50" y1="270.10" x2="425.50" y2="270.10" stroke="#000" stroke-width="0.9" />
<line x1="450.80" y1="217.78" x2="450.80" y2="211.80" stroke="#000" stroke-width="0.8" />
<line x1="449.30" y1="211.80" x2="452.30" y2="211.80" stroke="#000" stroke-width="0.9" />
<line x1="477.60" y1="293.42" x2="477.60" y2="290.43" stroke="#000" stroke-width="0.8" />
<line x1="476.10" y1="290.43" x2="479.10" y2="290.43" stroke="#000" stroke-width="0.9" />
<line x1="316.80" y1="303.59" x2="316.80" y2="300.00" stroke="#000" stroke-width="0.8" />
<line x1="315.30" y1="300.00" x2="318.30" y2="300.00" stroke="#000" stroke-width="0.9" />
<line x1="370.40" y1="297.31" x2="370.40" y2="291.03" stroke="#000" stroke-width="0.8" />
<line x1="368.90" y1="291.03" x2="371.90" y2="291.03" stroke="#000" stroke-width="0.9" />
<line x1="450.80" y1="295.82" x2="450.80" y2="291.63" stroke="#000" stroke-width="0.8" />
<line x1="449.30" y1="291.63" x2="452.30" y2="291.63" stroke="#000" stroke-width="0.9" />
<line x1="477.60" y1="288.94" x2="477.60" y2="284.75" stroke="#000" stroke-width="0.8" />
<line x1="476.10" y1="284.75" x2="479.10" y2="284.75" stroke="#000" stroke-width="0.9" />
<line x1="504.40" y1="297.01" x2="504.40" y2="292.53" stroke="#000" stroke-width="0.8" />
<line x1="502.90" y1="292.53" x2="505.90" y2="292.53" stroke="#000" stroke-width="0.9" />
<rect x="286.30" y="316.93" width="7.40" height="7.40" fill="#fff" stroke="#000" stroke-width="0.9" />
<rect x="313.10" y="316.93" width="7.40" height="7.40" fill="#fff" stroke="#000" stroke-width="0.9" />
<rect x="339.90" y="316.33" width="7.40" height="7.40" fill="#fff" stroke="#000" stroke-width="0.9" />
<rect x="366.70" y="315.44" width="7.40" height="7.40" fill="#fff" stroke="#000" stroke-width="0.9" />
<rect x="393.50" y="314.24" width="7.40" height="7.40" fill="#fff" stroke="#000" stroke-width="0.9" />
<rect x="420.30" y="281.05" width="7.40" height="7.40" fill="#fff" stroke="#000" stroke-width="0.9" />
<rect x="447.10" y="244.28" width="7.40" height="7.40" fill="#fff" stroke="#000" stroke-width="0.9" />
<rect x="473.90" y="250.26" width="7.40" height="7.40" fill="#fff" stroke="#000" stroke-width="0.9" />
<rect x="500.70" y="305.87" width="7.40" height="7.40" fill="#fff" stroke="#000" stroke-width="0.9" />
<polygon points="290.00,318.13 294.10,326.13 285.90,326.13" fill="#fff" stroke="#000" stroke-width="0.9" stroke-linejoin="miter"/>
<polygon points="316.80,318.13 320.90,326.13 312.70,326.13" fill="#fff" stroke="#000" stroke-width="0.9" stroke-linejoin="miter"/>
<polygon points="343.60,317.83 347.70,325.83 339.50,325.83" fill="#fff" stroke="#000" stroke-width="0.9" stroke-linejoin="miter"/>
<polygon points="370.40,316.63 374.50,324.63 366.30,324.63" fill="#fff" stroke="#000" stroke-width="0.9" stroke-linejoin="miter"/>
<polygon points="397.20,295.70 401.30,303.70 393.10,303.70" fill="#fff" stroke="#000" stroke-width="0.9" stroke-linejoin="miter"/>
<polygon points="424.00,269.69 428.10,277.69 419.90,277.69" fill="#fff" stroke="#000" stroke-width="0.9" stroke-linejoin="miter"/>
<polygon points="450.80,213.48 454.90,221.48 446.70,221.48" fill="#fff" stroke="#000" stroke-width="0.9" stroke-linejoin="miter"/>
<polygon points="477.60,289.12 481.70,297.12 473.50,297.12" fill="#fff" stroke="#000" stroke-width="0.9" stroke-linejoin="miter"/>
<polygon points="504.40,313.94 508.50,321.94 500.30,321.94" fill="#fff" stroke="#000" stroke-width="0.9" stroke-linejoin="miter"/>
<polygon points="290.00,303.67 294.30,312.27 285.70,312.27" fill="#000" stroke="#000" stroke-width="0.6"/>
<polygon points="316.80,298.89 321.10,307.49 312.50,307.49" fill="#000" stroke="#000" stroke-width="0.6"/>
<polygon points="343.60,289.92 347.90,298.52 339.30,298.52" fill="#000" stroke="#000" stroke-width="0.6"/>
<polygon points="370.40,292.61 374.70,301.21 366.10,301.21" fill="#000" stroke="#000" stroke-width="0.6"/>
<polygon points="397.20,298.89 401.50,307.49 392.90,307.49" fill="#000" stroke="#000" stroke-width="0.6"/>
<polygon points="424.00,300.68 428.30,309.28 419.70,309.28" fill="#000" stroke="#000" stroke-width="0.6"/>
<polygon points="450.80,291.12 455.10,299.72 446.50,299.72" fill="#000" stroke="#000" stroke-width="0.6"/>
<polygon points="477.60,284.24 481.90,292.84 473.30,292.84" fill="#000" stroke="#000" stroke-width="0.6"/>
<polygon points="504.40,292.31 508.70,300.91 500.10,300.91" fill="#000" stroke="#000" stroke-width="0.6"/>
<rect x="285.90" y="274.37" width="8.20" height="8.20" fill="#000" stroke="#000" stroke-width="0.6" />
<rect x="312.70" y="270.79" width="8.20" height="8.20" fill="#000" stroke="#000" stroke-width="0.6" />
<rect x="339.50" y="282.15" width="8.20" height="8.20" fill="#000" stroke="#000" stroke-width="0.6" />
<rect x="366.30" y="303.97" width="8.20" height="8.20" fill="#000" stroke="#000" stroke-width="0.6" />
<rect x="393.10" y="305.77" width="8.20" height="8.20" fill="#000" stroke="#000" stroke-width="0.6" />
<rect x="419.90" y="305.77" width="8.20" height="8.20" fill="#000" stroke="#000" stroke-width="0.6" />
<rect x="446.70" y="304.27" width="8.20" height="8.20" fill="#000" stroke="#000" stroke-width="0.6" />
<rect x="473.50" y="300.98" width="8.20" height="8.20" fill="#000" stroke="#000" stroke-width="0.6" />
<rect x="500.30" y="304.87" width="8.20" height="8.20" fill="#000" stroke="#000" stroke-width="0.6" />
<text x="0" y="5.15" font-size="10" style="stroke-width:0.35px" text-anchor="middle" fill="#111" transform="translate(310.75,237.75) scale(1.472,1.343)">*</text>
<text x="0" y="5.15" font-size="10" style="stroke-width:0.35px" text-anchor="middle" fill="#111" transform="translate(317.70,237.75) scale(1.472,1.343)">*</text>
<text x="0" y="5.15" font-size="10" style="stroke-width:0.35px" text-anchor="middle" fill="#111" transform="translate(324.65,237.75) scale(1.472,1.343)">*</text>
<line x1="290.40" y1="246.80" x2="345.60" y2="246.80" stroke="#333" stroke-width="1.4" />
<text x="0" y="5.15" font-size="10" style="stroke-width:0.35px" text-anchor="middle" fill="#111" transform="translate(465.95,185.60) scale(1.472,1.286)">*</text>
<text x="0" y="5.15" font-size="10" style="stroke-width:0.35px" text-anchor="middle" fill="#111" transform="translate(472.90,185.60) scale(1.472,1.286)">*</text>
<line x1="441.10" y1="196.70" x2="496.00" y2="196.70" stroke="#333" stroke-width="1.4" />
<text x="350.40" y="173.50" font-size="11" font-weight="bold" text-anchor="start" fill="#000" textLength="102.80" lengthAdjust="spacingAndGlyphs" >Donor CD8<tspan baseline-shift="super" font-size="7">+</tspan> T-cells</text>
<text x="0.00" y="0.00" font-size="11.6" font-weight="bold" text-anchor="middle" fill="#000" transform="translate(21.9,254.4) rotate(-90)">Cells(%)</text>
<line x1="67.20" y1="345.60" x2="486.00" y2="345.60" stroke="#222" stroke-width="1.3" />
<polygon points="484.5,342.6 491.0,345.6 484.5,348.6" fill="#111"/>
<text x="211.70" y="357.20" font-size="11" font-weight="bold" text-anchor="start" fill="#000" textLength="135.70" lengthAdjust="spacingAndGlyphs" >Number of Cell Divisions</text>
<text x="18.30" y="377.40" font-size="16.5" font-weight="bold" text-anchor="start" fill="#000" >C</text>
<text x="0.00" y="0.00" font-size="11.5" font-weight="bold" text-anchor="middle" fill="#000" transform="translate(12.9,431.1) rotate(-90)">Proliferation Index</text>
<line x1="70.65" y1="465.00" x2="70.65" y2="464.60" stroke="#222" stroke-width="0.9" />
<line x1="68.15" y1="464.60" x2="73.15" y2="464.60" stroke="#222" stroke-width="0.9" />
<rect x="60.00" y="465.00" width="21.30" height="7.00" fill="#262626" stroke="none" stroke-width="1" />
<line x1="121.90" y1="460.00" x2="121.90" y2="459.40" stroke="#222" stroke-width="0.9" />
<line x1="119.40" y1="459.40" x2="124.40" y2="459.40" stroke="#222" stroke-width="0.9" />
<rect x="111.30" y="460.00" width="21.20" height="12.00" fill="#262626" stroke="none" stroke-width="1" />
<line x1="173.40" y1="460.00" x2="173.40" y2="458.60" stroke="#222" stroke-width="0.9" />
<line x1="170.90" y1="458.60" x2="175.90" y2="458.60" stroke="#222" stroke-width="0.9" />
<rect x="163.10" y="460.00" width="20.60" height="12.00" fill="#262626" stroke="none" stroke-width="1" />
<line x1="224.30" y1="461.40" x2="224.30" y2="461.00" stroke="#222" stroke-width="0.9" />
<line x1="221.80" y1="461.00" x2="226.80" y2="461.00" stroke="#222" stroke-width="0.9" />
<rect x="214.00" y="461.40" width="20.60" height="10.60" fill="#262626" stroke="none" stroke-width="1" />
<polyline points="45.40,472.00 45.40,387.38 250.00,387.38 250.00,472.00" fill="none" stroke="#404040" stroke-width="1.1"/>
<line x1="45.40" y1="472.00" x2="250.00" y2="472.00" stroke="#5a5a5a" stroke-width="1.2" />
<line x1="43.40" y1="472.00" x2="45.40" y2="472.00" stroke="#ccc" stroke-width="0.7" />
<text x="38.60" y="475.00" font-size="8.4" font-weight="normal" text-anchor="end" fill="#1a1a1a" >0</text>
<line x1="43.40" y1="455.07" x2="45.40" y2="455.07" stroke="#ccc" stroke-width="0.7" />
<text x="38.60" y="458.07" font-size="8.4" font-weight="normal" text-anchor="end" fill="#1a1a1a" >5</text>
<line x1="43.40" y1="438.15" x2="45.40" y2="438.15" stroke="#ccc" stroke-width="0.7" />
<text x="38.60" y="441.15" font-size="8.4" font-weight="normal" text-anchor="end" fill="#1a1a1a" textLength="9.60" lengthAdjust="spacingAndGlyphs" >10</text>
<line x1="43.40" y1="421.23" x2="45.40" y2="421.23" stroke="#ccc" stroke-width="0.7" />
<text x="38.60" y="424.23" font-size="8.4" font-weight="normal" text-anchor="end" fill="#1a1a1a" textLength="9.60" lengthAdjust="spacingAndGlyphs" >15</text>
<line x1="43.40" y1="404.30" x2="45.40" y2="404.30" stroke="#ccc" stroke-width="0.7" />
<text x="38.60" y="407.30" font-size="8.4" font-weight="normal" text-anchor="end" fill="#1a1a1a" textLength="9.60" lengthAdjust="spacingAndGlyphs" >20</text>
<line x1="43.40" y1="387.38" x2="45.40" y2="387.38" stroke="#ccc" stroke-width="0.7" />
<text x="38.60" y="390.38" font-size="8.4" font-weight="normal" text-anchor="end" fill="#1a1a1a" textLength="9.60" lengthAdjust="spacingAndGlyphs" >25</text>
<path d="M54.50,412.60 L54.50,405.00 Q54.50,403.50 56.00,403.50 L182.50,403.50 Q184.00,403.50 184.00,405.00 L184.00,412.60" fill="none" stroke="#111" stroke-width="1.5"/>
<text x="0" y="5.15" font-size="10" style="stroke-width:0.35px" text-anchor="middle" fill="#111" transform="translate(118.20,394.50) scale(1.639,1.457)">*</text>
<path d="M54.50,429.00 L54.50,421.70 Q54.50,420.20 56.00,420.20 L122.20,420.20 Q123.70,420.20 123.70,421.70 L123.70,429.00" fill="none" stroke="#111" stroke-width="1.5"/>
<text x="0" y="5.15" font-size="10" style="stroke-width:0.35px" text-anchor="middle" fill="#111" transform="translate(93.50,411.60) scale(1.528,1.514)">*</text>
<text x="70.00" y="483.60" font-size="8.3" font-weight="bold" text-anchor="middle" fill="#000" textLength="14.60" lengthAdjust="spacingAndGlyphs" >HSC</text>
<text x="70.00" y="493.90" font-size="8.3" font-weight="bold" text-anchor="middle" fill="#000" textLength="17.80" lengthAdjust="spacingAndGlyphs" >WT-T</text>
<text x="125.30" y="483.60" font-size="8.3" font-weight="bold" text-anchor="middle" fill="#000" textLength="14.60" lengthAdjust="spacingAndGlyphs" >HSC</text>
<text x="125.30" y="493.90" font-size="8.3" font-weight="bold" text-anchor="middle" fill="#000" textLength="17.80" lengthAdjust="spacingAndGlyphs" >WT-T</text>
<text x="125.30" y="503.60" font-size="8.3" font-weight="bold" text-anchor="middle" fill="#000" textLength="14.00" lengthAdjust="spacingAndGlyphs" >pDC</text>
<text x="181.00" y="483.60" font-size="8.3" font-weight="bold" text-anchor="middle" fill="#000" textLength="14.60" lengthAdjust="spacingAndGlyphs" >HSC</text>
<text x="164.60" y="493.80" font-size="8.3" font-weight="bold" text-anchor="start" fill="#000" textLength="17.40" lengthAdjust="spacingAndGlyphs" >IFN-γ</text>
<text x="184.00" y="490.60" font-size="5.2" font-weight="normal" text-anchor="start" fill="#555" textLength="7.30" lengthAdjust="spacingAndGlyphs" style="stroke-width:0">-/-</text>
<text x="192.50" y="493.80" font-size="8.3" font-weight="bold" text-anchor="start" fill="#000" textLength="4.60" lengthAdjust="spacingAndGlyphs" >T</text>
<text x="236.00" y="483.60" font-size="8.3" font-weight="bold" text-anchor="middle" fill="#000" textLength="14.60" lengthAdjust="spacingAndGlyphs" >HSC</text>
<text x="219.60" y="493.80" font-size="8.3" font-weight="bold" text-anchor="start" fill="#000" textLength="17.40" lengthAdjust="spacingAndGlyphs" >IFN-γ</text>
<text x="239.00" y="490.60" font-size="5.2" font-weight="normal" text-anchor="start" fill="#555" textLength="7.30" lengthAdjust="spacingAndGlyphs" style="stroke-width:0">-/-</text>
<text x="247.50" y="493.80" font-size="8.3" font-weight="bold" text-anchor="start" fill="#000" textLength="4.60" lengthAdjust="spacingAndGlyphs" >T</text>
<text x="236.00" y="503.60" font-size="8.3" font-weight="bold" text-anchor="middle" fill="#000" textLength="14.00" lengthAdjust="spacingAndGlyphs" >pDC</text>
<text x="96.10" y="378.90" font-size="11" font-weight="bold" text-anchor="start" fill="#000" textLength="103.20" lengthAdjust="spacingAndGlyphs" >Donor CD4<tspan baseline-shift="super" font-size="7">+</tspan> T-cells</text>
<line x1="317.30" y1="462.80" x2="317.30" y2="462.40" stroke="#222" stroke-width="0.9" />
<line x1="314.80" y1="462.40" x2="319.80" y2="462.40" stroke="#222" stroke-width="0.9" />
<rect x="306.20" y="462.80" width="22.20" height="9.50" fill="#262626" stroke="none" stroke-width="1" />
<line x1="370.20" y1="453.90" x2="370.20" y2="453.30" stroke="#222" stroke-width="0.9" />
<line x1="367.70" y1="453.30" x2="372.70" y2="453.30" stroke="#222" stroke-width="0.9" />
<rect x="359.50" y="453.90" width="21.40" height="18.40" fill="#262626" stroke="none" stroke-width="1" />
<line x1="423.30" y1="427.40" x2="423.30" y2="413.50" stroke="#222" stroke-width="0.9" />
<line x1="420.80" y1="413.50" x2="425.80" y2="413.50" stroke="#222" stroke-width="0.9" />
<rect x="412.60" y="427.40" width="21.40" height="44.90" fill="#262626" stroke="none" stroke-width="1" />
<line x1="476.45" y1="424.10" x2="476.45" y2="419.50" stroke="#222" stroke-width="0.9" />
<line x1="473.95" y1="419.50" x2="478.95" y2="419.50" stroke="#222" stroke-width="0.9" />
<rect x="466.00" y="424.10" width="20.90" height="48.20" fill="#262626" stroke="none" stroke-width="1" />
<polyline points="290.60,472.30 290.60,390.60 503.30,390.60 503.30,472.30" fill="none" stroke="#404040" stroke-width="1.1"/>
<line x1="290.60" y1="472.30" x2="503.30" y2="472.30" stroke="#5a5a5a" stroke-width="1.2" />
<line x1="288.60" y1="472.30" x2="290.60" y2="472.30" stroke="#ccc" stroke-width="0.7" />
<text x="284.40" y="475.30" font-size="8.4" font-weight="normal" text-anchor="end" fill="#1a1a1a" >0</text>
<line x1="288.60" y1="455.96" x2="290.60" y2="455.96" stroke="#ccc" stroke-width="0.7" />
<text x="284.40" y="458.96" font-size="8.4" font-weight="normal" text-anchor="end" fill="#1a1a1a" >5</text>
<line x1="288.60" y1="439.62" x2="290.60" y2="439.62" stroke="#ccc" stroke-width="0.7" />
<text x="284.40" y="442.62" font-size="8.4" font-weight="normal" text-anchor="end" fill="#1a1a1a" textLength="9.60" lengthAdjust="spacingAndGlyphs" >10</text>
<line x1="288.60" y1="423.28" x2="290.60" y2="423.28" stroke="#ccc" stroke-width="0.7" />
<text x="284.40" y="426.28" font-size="8.4" font-weight="normal" text-anchor="end" fill="#1a1a1a" textLength="9.60" lengthAdjust="spacingAndGlyphs" >15</text>
<line x1="288.60" y1="406.94" x2="290.60" y2="406.94" stroke="#ccc" stroke-width="0.7" />
<text x="284.40" y="409.94" font-size="8.4" font-weight="normal" text-anchor="end" fill="#1a1a1a" textLength="9.60" lengthAdjust="spacingAndGlyphs" >20</text>
<line x1="288.60" y1="390.60" x2="290.60" y2="390.60" stroke="#ccc" stroke-width="0.7" />
<text x="284.40" y="393.60" font-size="8.4" font-weight="normal" text-anchor="end" fill="#1a1a1a" textLength="9.60" lengthAdjust="spacingAndGlyphs" >25</text>
<path d="M306.20,414.30 L306.20,404.90 Q306.20,403.40 307.70,403.40 L435.70,403.40 Q437.20,403.40 437.20,404.90 L437.20,414.30" fill="none" stroke="#111" stroke-width="1.5"/>
<text x="0" y="5.15" font-size="10" style="stroke-width:0.35px" text-anchor="middle" fill="#111" transform="translate(371.60,395.30) scale(1.528,1.343)">*</text>
<path d="M306.20,430.50 L306.20,421.10 Q306.20,419.60 307.70,419.60 L375.30,419.60 Q376.80,419.60 376.80,421.10 L376.80,430.50" fill="none" stroke="#111" stroke-width="1.5"/>
<text x="0" y="5.15" font-size="10" style="stroke-width:0.35px" text-anchor="middle" fill="#111" transform="translate(343.30,411.00) scale(1.528,1.429)">*</text>
<text x="320.70" y="483.60" font-size="8.3" font-weight="bold" text-anchor="middle" fill="#000" textLength="14.60" lengthAdjust="spacingAndGlyphs" >HSC</text>
<text x="320.70" y="493.90" font-size="8.3" font-weight="bold" text-anchor="middle" fill="#000" textLength="17.80" lengthAdjust="spacingAndGlyphs" >WT-T</text>
<text x="376.00" y="483.60" font-size="8.3" font-weight="bold" text-anchor="middle" fill="#000" textLength="14.60" lengthAdjust="spacingAndGlyphs" >HSC</text>
<text x="376.00" y="493.90" font-size="8.3" font-weight="bold" text-anchor="middle" fill="#000" textLength="17.80" lengthAdjust="spacingAndGlyphs" >WT-T</text>
<text x="376.00" y="503.60" font-size="8.3" font-weight="bold" text-anchor="middle" fill="#000" textLength="14.00" lengthAdjust="spacingAndGlyphs" >pDC</text>
<text x="431.50" y="483.60" font-size="8.3" font-weight="bold" text-anchor="middle" fill="#000" textLength="14.60" lengthAdjust="spacingAndGlyphs" >HSC</text>
<text x="415.10" y="493.80" font-size="8.3" font-weight="bold" text-anchor="start" fill="#000" textLength="17.40" lengthAdjust="spacingAndGlyphs" >IFN-γ</text>
<text x="434.50" y="490.60" font-size="5.2" font-weight="normal" text-anchor="start" fill="#555" textLength="7.30" lengthAdjust="spacingAndGlyphs" style="stroke-width:0">-/-</text>
<text x="443.00" y="493.80" font-size="8.3" font-weight="bold" text-anchor="start" fill="#000" textLength="4.60" lengthAdjust="spacingAndGlyphs" >T</text>
<text x="487.00" y="483.60" font-size="8.3" font-weight="bold" text-anchor="middle" fill="#000" textLength="14.60" lengthAdjust="spacingAndGlyphs" >HSC</text>
<text x="470.60" y="493.80" font-size="8.3" font-weight="bold" text-anchor="start" fill="#000" textLength="17.40" lengthAdjust="spacingAndGlyphs" >IFN-γ</text>
<text x="490.00" y="490.60" font-size="5.2" font-weight="normal" text-anchor="start" fill="#555" textLength="7.30" lengthAdjust="spacingAndGlyphs" style="stroke-width:0">-/-</text>
<text x="498.50" y="493.80" font-size="8.3" font-weight="bold" text-anchor="start" fill="#000" textLength="4.60" lengthAdjust="spacingAndGlyphs" >T</text>
<text x="487.00" y="503.60" font-size="8.3" font-weight="bold" text-anchor="middle" fill="#000" textLength="14.00" lengthAdjust="spacingAndGlyphs" >pDC</text>
<text x="352.70" y="378.00" font-size="11" font-weight="bold" text-anchor="start" fill="#000" textLength="103.90" lengthAdjust="spacingAndGlyphs" >Donor CD8<tspan baseline-shift="super" font-size="7">+</tspan> T-cells</text>
</svg>
</body></html>
